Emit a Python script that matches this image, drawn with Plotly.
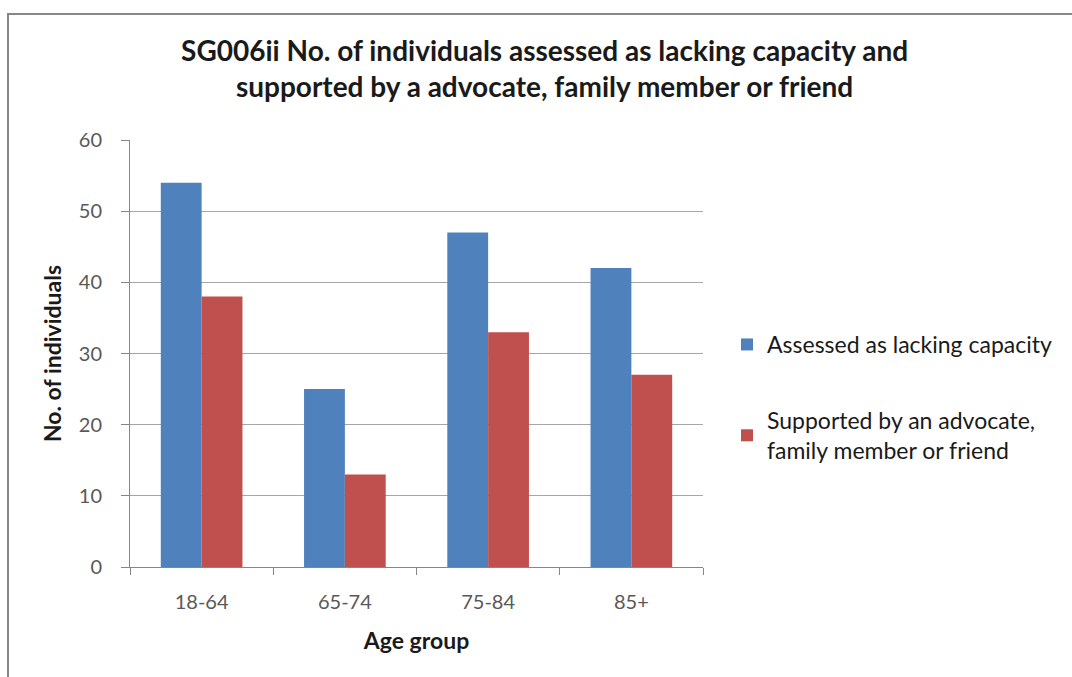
import plotly.graph_objects as go

# Age groups and counts per group
age_groups = ["18-64", "65-74", "75-84", "85+"]
assessed_lacking = [54, 25, 47, 42]
supported = [38, 13, 33, 27]

series_names = [
    "Assessed as lacking capacity",
    "Supported by an advocate,<br>family member or friend",
]
title_text = ("SG006ii No. of individuals assessed as lacking capacity and<br>"
              "supported by a advocate, family member or friend")

FONT = "Lato"
BLUE = "#4F81BD"
RED = "#C0504D"
TEXT_GREY = "#595959"
DARK = "#1a1a1a"

fig = go.Figure()
fig.add_trace(go.Bar(
    x=age_groups, y=assessed_lacking, name=series_names[0],
    marker=dict(color=BLUE, line=dict(width=0)), legendgroup="a",
))
fig.add_trace(go.Bar(
    x=age_groups, y=supported, name=series_names[1],
    marker=dict(color=RED, line=dict(width=0)), legendgroup="b",
))

W, H = 1072, 677
L, R, T, B = 130, 369, 140, 110
pw, ph = W - L - R, H - T - B

def px_x(x):
    return (x - L) / pw

def px_y(y):
    return (H - B - y) / ph

fig.update_layout(
    width=W, height=H,
    margin=dict(l=L, r=R, t=T, b=B, pad=0),
    paper_bgcolor="white", plot_bgcolor="white",
    barmode="group", bargap=0.43, bargroupgap=0,
    font=dict(family=FONT, color=TEXT_GREY, size=20),
    title=dict(
        text=title_text, x=0.508, xanchor="center", y=0.910, yanchor="middle",
        font=dict(family=FONT, size=28, color=DARK, weight="bold"),
    ),
    xaxis=dict(
        title=dict(text="Age group", font=dict(family=FONT, size=23, color=DARK, weight="bold"), standoff=20),
        showline=True, linecolor="#868686", linewidth=1,
        ticks="outside", tickson="boundaries", ticklen=7, tickcolor="#868686",
        ticklabelstandoff=17,
        tickfont=dict(family=FONT, size=20, color=TEXT_GREY),
        showgrid=False,
    ),
    yaxis=dict(
        title=dict(text="No. of individuals", font=dict(family=FONT, size=23, color=DARK, weight="bold"), standoff=10),
        range=[0, 60], dtick=10,
        showline=True, linecolor="#868686", linewidth=1,
        ticks="outside", ticklen=8, tickcolor="#868686",
        ticklabelstandoff=15,
        tickfont=dict(family=FONT, size=20, color=TEXT_GREY),
        showgrid=True, gridcolor="#a6a6a6", gridwidth=1,
        zeroline=False,
    ),
    legend=dict(
        x=px_x(727), y=px_y(323), xanchor="left", yanchor="top",
        traceorder="grouped", tracegroupgap=43,
        font=dict(family=FONT, size=23, color=DARK),
        itemwidth=30, bgcolor="rgba(0,0,0,0)",
    ),
    shapes=[dict(
        type="rect", xref="paper", yref="paper",
        x0=px_x(8), x1=px_x(1080), y0=px_y(690), y1=px_y(14),
        line=dict(color="#878787", width=2), fillcolor="rgba(0,0,0,0)",
        layer="below",
    )],
)

fig.write_html("out.html")
